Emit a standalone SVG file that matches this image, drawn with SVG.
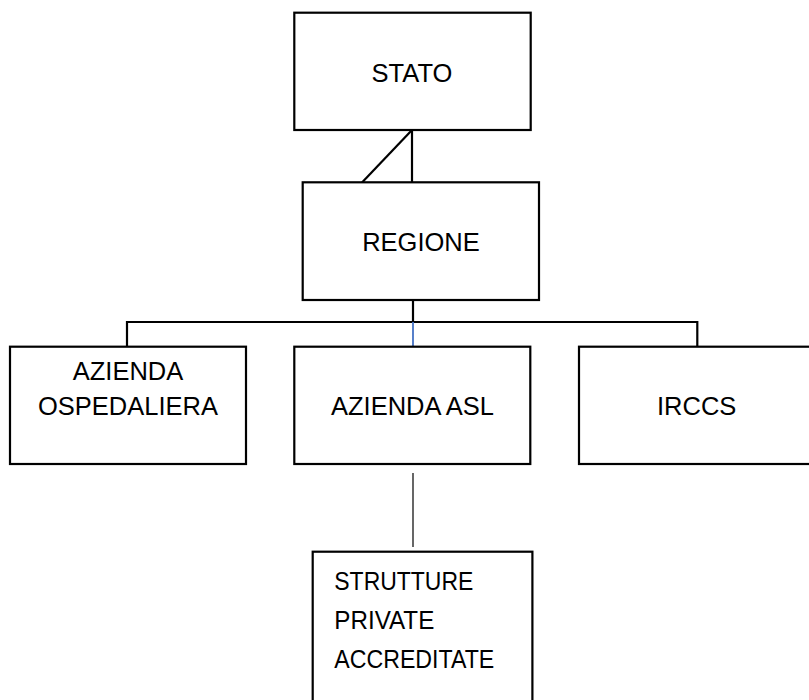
<svg xmlns="http://www.w3.org/2000/svg" width="809" height="700" viewBox="0 0 809 700">
<style>
.box{fill:#fff;stroke:#000;stroke-width:2.2}
.ln{fill:none;stroke:#000;stroke-width:2.2}
.t{font-family:"Liberation Sans",Arial,sans-serif;font-size:25.5px;fill:#000;text-anchor:middle}
.tl{font-family:"Liberation Sans",Arial,sans-serif;font-size:25.5px;fill:#000}
</style>
<rect width="809" height="700" fill="#fff"/>
<g id="connectors">
<line class="ln" x1="412" y1="130" x2="412" y2="182.5"/>
<line class="ln" x1="412" y1="130" x2="362" y2="182.5"/>
<line class="ln" x1="413" y1="300" x2="413" y2="322"/>
<polyline class="ln" points="127,346.7 127,322 697.3,322 697.3,346.7"/>
<line x1="413" y1="322" x2="413" y2="346.7" stroke="#4472C4" stroke-width="1.8"/>
<line x1="413" y1="473" x2="413" y2="547" stroke="#000" stroke-width="1.2"/>
</g>
<g id="stato">
<rect class="box" x="294.3" y="12.7" width="236.4" height="117.3"/>
<text class="t" x="412" y="81.5">STATO</text>
</g>
<g id="regione">
<rect class="box" x="302.7" y="182.3" width="236.3" height="117.7"/>
<text class="t" x="421" y="251">REGIONE</text>
</g>
<g id="azienda-ospedaliera">
<rect class="box" x="10" y="346.7" width="236" height="117.3"/>
<text class="t" x="128" y="380">AZIENDA</text>
<text class="t" x="128" y="415">OSPEDALIERA</text>
</g>
<g id="azienda-asl">
<rect class="box" x="294.3" y="346.7" width="236" height="117.3"/>
<text class="t" x="412.5" y="415">AZIENDA ASL</text>
</g>
<g id="irccs">
<rect class="box" x="579" y="346.7" width="235" height="117.3"/>
<text class="t" x="696.7" y="415">IRCCS</text>
</g>
<g id="strutture">
<rect class="box" x="312.7" y="551.7" width="219.7" height="160"/>
<text class="tl" x="334.3" y="590" textLength="139" lengthAdjust="spacingAndGlyphs">STRUTTURE</text>
<text class="tl" x="334.3" y="629" textLength="100" lengthAdjust="spacingAndGlyphs">PRIVATE</text>
<text class="tl" x="334.3" y="668" textLength="160" lengthAdjust="spacingAndGlyphs">ACCREDITATE</text>
</g>
</svg>
